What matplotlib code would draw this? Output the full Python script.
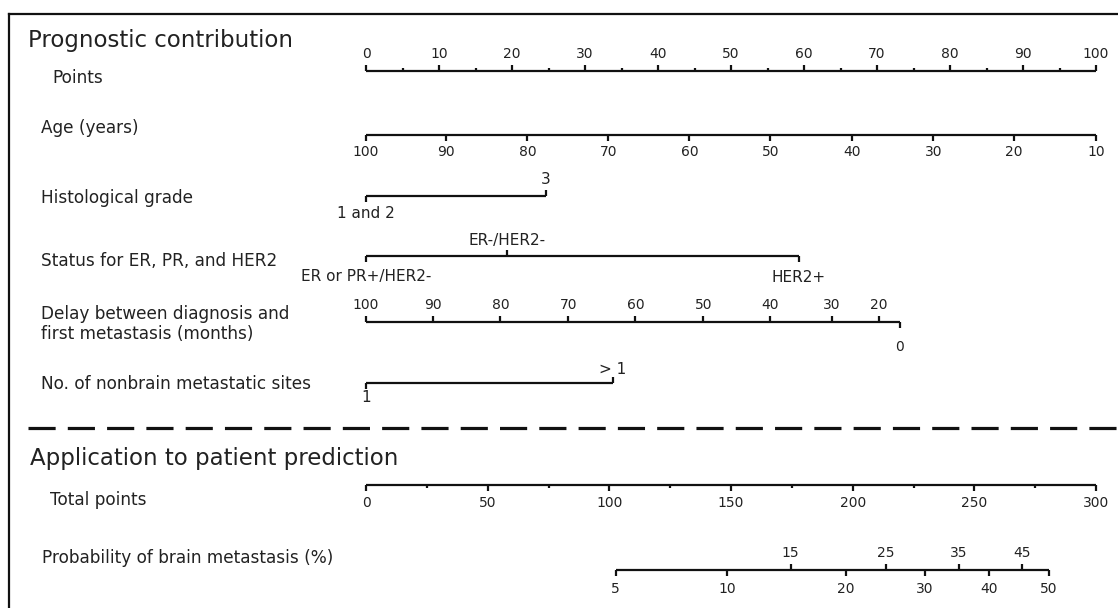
import numpy as np
import matplotlib.pyplot as plt

# nomogram values (positions on the 0-100 points scale)
points_ticks = [0, 10, 20, 30, 40, 50, 60, 70, 80, 90, 100]
points_minor = [5, 15, 25, 35, 45, 55, 65, 75, 85, 95]

age_labels = ['100', '90', '80', '70', '60', '50', '40', '30', '20', '10']
age_points = [0, 11.0, 22.1, 33.2, 44.3, 55.4, 66.6, 77.7, 88.8, 100]

grade_labels = ['1 and 2', '3']
grade_points = [0, 24.6]

status_labels = ['ER or PR+/HER2-', 'ER-/HER2-', 'HER2+']
status_points = [0, 19.3, 59.3]

delay_labels = ['100', '90', '80', '70', '60', '50', '40', '30', '20', '0']
delay_points = [0, 9.2, 18.4, 27.7, 36.9, 46.2, 55.3, 63.8, 70.3, 73.1]

sites_labels = ['1', '> 1']
sites_points = [0, 33.8]

total_ticks = [0, 50, 100, 150, 200, 250, 300]
total_minor = [25, 75, 125, 175, 225, 275]

prob_labels = ['5', '10', '15', '20', '25', '30', '35', '40', '45', '50']
prob_total = [102.6, 148.4, 174.5, 197.1, 213.5, 229.7, 243.6, 256.0, 269.6, 280.6]

row_names = ['Points', 'Age (years)', 'Histological grade', 'Status for ER, PR, and HER2',
             'Delay between diagnosis and\nfirst metastasis (months)',
             'No. of nonbrain metastatic sites', 'Total points',
             'Probability of brain metastasis (%)']

# layout (pixels)
W, H = 1118, 608
X0, X1 = 366, 1096
ink = '#111111'
txt = '#222222'
lw = 1.6
tick = 6


def px(x):
    return (x - X0) / (X1 - X0) * 100


fig = plt.figure(figsize=(W / 100, H / 100), dpi=100)
ax = fig.add_axes([0, 0, 1, 1])
ax.set_xlim(px(0), px(W))
ax.set_ylim(H, 0)
ax.axis('off')


def scale(y, xs, labels, sides, minor=None, fs=10, up=16, down=17):
    ax.plot([min(xs), max(xs)], [y, y], color=ink, lw=lw, solid_capstyle='butt')
    for x, lab, s in zip(xs, labels, sides):
        d = -1 if s == 'up' else 1
        ax.plot([x, x], [y, y + d * tick], color=ink, lw=lw, solid_capstyle='butt')
        ax.text(x, y + (-up if s == 'up' else down), lab, ha='center', va='center',
                fontsize=fs, color=txt)
    if minor is not None:
        d = -1 if sides[0] == 'up' else 1
        for x in minor:
            ax.plot([x, x], [y, y + d * 3], color=ink, lw=lw, solid_capstyle='butt')


# frame (top and left only)
ax.plot([px(8.5), px(W)], [13.5, 13.5], color=ink, lw=1.6)
ax.plot([px(8.5), px(8.5)], [13.5, H], color=ink, lw=1.6)

ax.text(px(28), 41, 'Prognostic contribution', fontsize=16.5, color=txt, va='center')
ax.text(px(30), 459, 'Application to patient prediction', fontsize=16.5, color=txt, va='center')

label_pos = [(52, 78), (41, 128), (41, 198), (41, 261), (41, 324), (41, 384), (50, 500), (42, 558)]
for name, (lx, ly) in zip(row_names, label_pos):
    ax.text(px(lx), ly, name, fontsize=12.2, color=txt, va='center', linespacing=1.15)

scale(70.5, points_ticks, [str(v) for v in points_ticks], ['up'] * 11, minor=points_minor, up=16)
scale(135, age_points, age_labels, ['down'] * 10, down=17)
scale(196, grade_points, grade_labels, ['down', 'up'], fs=11, up=16, down=18)
scale(256, status_points, status_labels, ['down', 'up', 'down'], fs=11, up=16, down=21)
scale(322, delay_points, delay_labels, ['up'] * 9 + ['down'], up=17, down=25)
scale(383, sites_points, sites_labels, ['down', 'up'], fs=11, up=13, down=15)

ax.plot([px(28), px(W)], [428, 428], color=ink, lw=2.3, ls=(0, (8.5, 3.8)))

tot = [v / 3 for v in total_ticks]
scale(485, tot, [str(v) for v in total_ticks], ['down'] * 7, minor=[v / 3 for v in total_minor], down=18)
prob_sides = ['up' if lab in ('15', '25', '35', '45') else 'down' for lab in prob_labels]
scale(570, [v / 3 for v in prob_total], prob_labels, prob_sides, up=17, down=19)

fig.savefig('out.png', dpi=100)
